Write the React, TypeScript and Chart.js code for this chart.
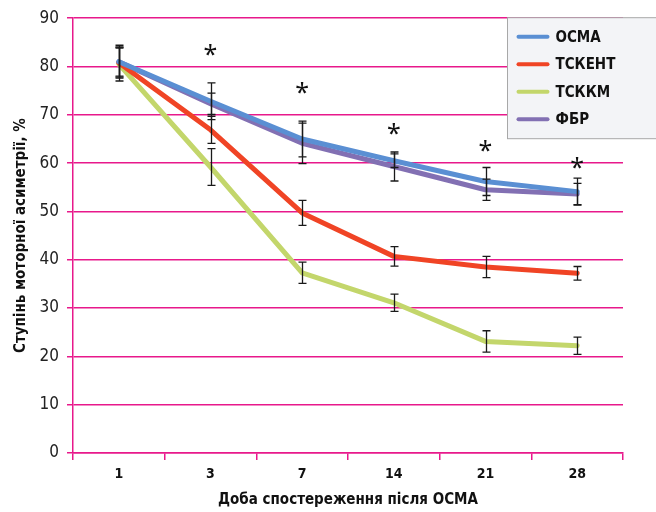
import { useEffect, useRef } from 'react';
import { Chart, registerables } from 'chart.js';

Chart.register(...registerables);

// Observation days (x categories)
const days = ['1', '3', '7', '14', '21', '28'];

// Mean degree of motor asymmetry, % (with error margins)
const osma = [81.0, 72.8, 65.0, 60.5, 56.2, 54.1];
const osmaErr = [3.4, 3.8, 3.7, 1.4, 2.9, 2.8];

const tskent = [80.8, 66.9, 49.7, 40.7, 38.5, 37.2];
const tskentErr = [3.0, 2.8, 2.6, 2.0, 2.2, 1.4];

const tskkm = [80.5, 59.2, 37.3, 31.1, 23.1, 22.2];
const tskkmErr = [3.5, 3.8, 2.2, 1.8, 2.2, 1.8];

const fbr = [81.0, 72.3, 64.1, 59.3, 54.5, 53.6];
const fbrErr = [3.0, 2.2, 4.2, 3.0, 2.2, 2.2];

// Significance markers (value level of each "*", null = none)
const starLevels = [null, 83.5, 75.5, 67, 63.5, 60];

const yTicks = [0, 10, 20, 30, 40, 50, 60, 70, 80, 90];

const PINK = '#e8198b';
const NARROW =
  "'Liberation Sans Narrow', 'DejaVu Sans Condensed', 'Roboto Condensed', 'Arial Narrow', sans-serif";

const series = [
  { label: 'ОСМА', data: osma, errors: osmaErr, color: '#5a8fd3' },
  { label: 'ТСКЕНТ', data: tskent, errors: tskentErr, color: '#f04425' },
  { label: 'ТСККМ', data: tskkm, errors: tskkmErr, color: '#c3d66b' },
  { label: 'ФБР', data: fbr, errors: fbrErr, color: '#8270b3' },
];

const errorBarsPlugin = {
  id: 'errorBars',
  afterDatasetsDraw(chart: any) {
    const { ctx } = chart;
    const y = chart.scales.y;
    ctx.save();
    ctx.strokeStyle = '#1a1a1a';
    ctx.lineWidth = 1.3;
    chart.data.datasets.forEach((ds: any, i: number) => {
      const meta = chart.getDatasetMeta(i);
      ds.data.forEach((v: number, j: number) => {
        const e = ds.errors[j];
        const px = Math.round(meta.data[j].x) + 0.5;
        const top = y.getPixelForValue(v + e);
        const bot = y.getPixelForValue(v - e);
        ctx.beginPath();
        ctx.moveTo(px, top);
        ctx.lineTo(px, bot);
        ctx.moveTo(px - 4, top);
        ctx.lineTo(px + 4, top);
        ctx.moveTo(px - 4, bot);
        ctx.lineTo(px + 4, bot);
        ctx.stroke();
      });
    });
    ctx.restore();
  },
};

const starsPlugin = {
  id: 'stars',
  afterDatasetsDraw(chart: any) {
    const { ctx } = chart;
    const x = chart.scales.x;
    const y = chart.scales.y;
    ctx.save();
    ctx.fillStyle = '#111';
    ctx.textAlign = 'center';
    ctx.textBaseline = 'alphabetic';
    ctx.font = "25px 'Noto Sans', sans-serif";
    const m = ctx.measureText('*');
    const shift = (m.actualBoundingBoxAscent - m.actualBoundingBoxDescent) / 2;
    starLevels.forEach((lv, j) => {
      if (lv == null) return;
      const px = x.getPixelForValue(j);
      const py = y.getPixelForValue(lv);
      ctx.fillText('*', px, py + shift);
    });
    ctx.restore();
  },
};

const legendBoxPlugin = {
  id: 'legendBox',
  afterDraw(chart: any) {
    const { ctx, chartArea } = chart;
    const left = chartArea.right - 115.5;
    const top = chartArea.top - 0.5;
    ctx.save();
    ctx.fillStyle = '#f3f4f7';
    ctx.strokeStyle = '#a8a8a8';
    ctx.lineWidth = 1;
    ctx.fillRect(left, top, 200, 121);
    ctx.strokeRect(left, top, 200, 121);
    ctx.font = `bold 15px ${NARROW}`;
    ctx.textBaseline = 'middle';
    ctx.textAlign = 'left';
    series.forEach((s, i) => {
      const cy = top + 19 + i * 27.5;
      ctx.strokeStyle = s.color;
      ctx.lineWidth = 4;
      ctx.lineCap = 'round';
      ctx.beginPath();
      ctx.moveTo(left + 11, cy);
      ctx.lineTo(left + 40, cy);
      ctx.stroke();
      ctx.fillStyle = '#111';
      ctx.fillText(s.label, left + 48, cy + 1);
    });
    ctx.restore();
  },
};

export default function App() {
  const canvasRef = useRef<HTMLCanvasElement | null>(null);

  useEffect(() => {
    document.body.style.margin = '0';
    const canvas = canvasRef.current;
    if (!canvas) return;

    const chart = new Chart(canvas, {
      type: 'line',
      data: {
        labels: days,
        datasets: series.map((s) => ({
          label: s.label,
          data: s.data,
          errors: s.errors,
          borderColor: s.color,
          backgroundColor: s.color,
          borderWidth: 5,
          pointRadius: 0,
          pointHoverRadius: 0,
          tension: 0,
          borderCapStyle: 'round',
          borderJoinStyle: 'round',
          fill: false,
        })) as any,
      },
      options: {
        responsive: false,
        animation: false,
        events: [],
        layout: { padding: { top: 15, right: 33, left: 0, bottom: 0 } },
        plugins: {
          legend: { display: false },
          tooltip: { enabled: false },
        },
        scales: {
          x: {
            offset: true,
            grid: {
              offset: true,
              drawOnChartArea: false,
              drawTicks: true,
              tickLength: 7,
              color: PINK,
              lineWidth: 1.5,
            },
            border: { color: PINK, width: 1.5 },
            ticks: {
              padding: 6,
              maxRotation: 0,
              color: '#111',
              font: { family: NARROW, size: 14, weight: 'bold' },
            },
            title: {
              display: true,
              text: 'Доба спостереження після ОСМА',
              color: '#111',
              font: { family: NARROW, size: 15, weight: 'bold' },
              padding: { top: 0, bottom: 3 },
            },
            afterFit: (s: any) => {
              s.height = 59;
            },
          },
          y: {
            min: 0,
            max: 90,
            afterBuildTicks: (s: any) => {
              s.ticks = yTicks.map((v) => ({ value: v }));
            },
            grid: {
              color: PINK,
              lineWidth: 1.5,
              drawTicks: true,
              tickLength: 6,
            },
            border: { color: PINK, width: 1.5 },
            ticks: {
              padding: 8,
              color: '#222',
              font: { family: NARROW, size: 17 },
            },
            title: {
              display: true,
              text: 'Ступінь моторної асиметрії, %',
              color: '#111',
              font: { family: NARROW, size: 15, weight: 'bold' },
              padding: { top: 12, bottom: 0 },
            },
            afterFit: (s: any) => {
              s.width = 73;
            },
          },
        },
      } as any,
      plugins: [errorBarsPlugin, starsPlugin, legendBoxPlugin],
    });

    return () => chart.destroy();
  }, []);

  return (
    <div style={{ width: 656, height: 512 }}>
      <canvas ref={canvasRef} width={656} height={512} />
    </div>
  );
}
